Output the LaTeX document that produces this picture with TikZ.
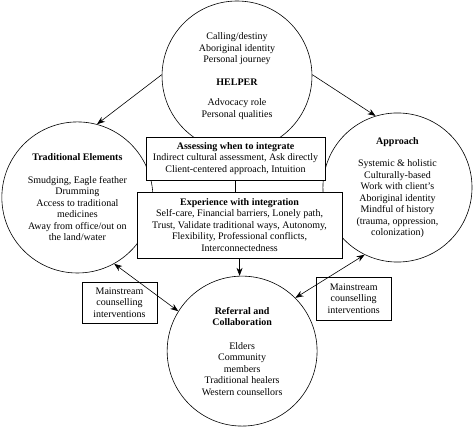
\documentclass[tikz,border=0pt]{standalone}
\usepackage{fontspec}
\setmainfont{Liberation Serif}
\usetikzlibrary{arrows.meta,positioning}

\begin{document}
\begin{tikzpicture}[
    circ/.style={draw, circle, line width=0.6pt, minimum size=5.27cm, inner sep=0pt, align=center, font=\fontsize{10}{11.5}\selectfont},
    box/.style={draw, fill=white, line width=0.6pt, align=center, inner sep=1pt, font=\fontsize{10}{11.5}\selectfont},
    arr/.style={-{Stealth[length=8pt,width=6pt]}, line width=0.6pt},
    darr/.style={{Stealth[length=8pt,width=6pt]}-{Stealth[length=8pt,width=6pt]}, line width=0.6pt}
]
\useasboundingbox (0,0) rectangle (16.66,-15.18);

% the four circles
\node[circ] (H) at (8.33,-2.67) {Calling/destiny\\Aboriginal identity\\Personal journey\\[11pt]\textbf{HELPER}\\[9pt]Advocacy role\\Personal qualities};
\node[circ, minimum size=5.31cm] (T) at (2.72,-6.94) {\textbf{Traditional Elements}\\[11pt]Smudging, Eagle feather\\Drumming\\Access to traditional\\medicines\\Away from office/out on\\the land/water};
\node[circ, minimum size=5.24cm] (P) at (13.97,-6.59) {\textbf{Approach}\\[11pt]Systemic \& holistic\\Culturally-based\\Work with client's\\Aboriginal identity\\Mindful of history\\(trauma, oppression,\\colonization)};
\node[circ] (R) at (8.51,-12.34) {\textbf{Referral and}\\\textbf{Collaboration}\\[12pt]Elders\\Community\\members\\Traditional healers\\Western counsellors};

% middle boxes
\node[box, minimum width=6.29cm, minimum height=1.51cm] (A) at (8.28,-5.57) {\textbf{Assessing when to integrate}\\Indirect cultural assessment, Ask directly\\Client-centered approach, Intuition};
\node[box, minimum width=7.21cm, minimum height=2.32cm] (E) at (8.42,-7.91) {\textbf{Experience with integration}\\Self-care, Financial barriers, Lonely path,\\Trust, Validate traditional ways, Autonomy,\\Flexibility, Professional conflicts,\\Interconnectedness};

\node[box, minimum width=2.64cm, minimum height=1.44cm] (M1) at (4.20,-10.63) {Mainstream\\counselling\\interventions};
\node[box, minimum width=2.64cm, minimum height=1.51cm] (M2) at (12.43,-10.49) {Mainstream\\counselling\\interventions};

\draw[line width=0.6pt] (A.south) -- (A.south |- E.north);
\draw[arr] (E.south) -- (E.south |- R.north);
\draw[arr] (H.179) -- (T.75);
\draw[arr] (H.1) -- (P.107);
\draw[darr] (T.-61) -- (R.148);
\draw[darr] (P.-116) -- (R.45);
\end{tikzpicture}
\end{document}
